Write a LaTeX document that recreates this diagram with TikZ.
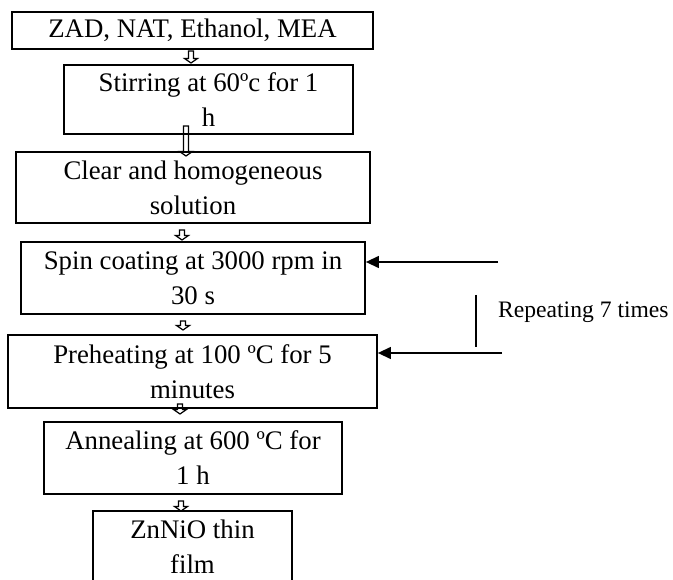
\documentclass[tikz,border=0pt]{standalone}
\usepackage{fontspec}
\setmainfont{Liberation Serif}
\usetikzlibrary{arrows.meta}
\tikzset{
  stepbox/.style={draw, line width=1.8pt, rectangle, inner sep=0pt, align=center,
    font=\fontsize{26.8pt}{35pt}\selectfont},
  flowarr/.style={draw, line width=1.2pt, fill=none, line join=miter},
  backarr/.style={line width=1.3pt, -{Triangle[length=13pt,width=12pt]}},
  plainline/.style={line width=1.3pt},
  note/.style={font=\fontsize{23.6pt}{27pt}\selectfont, anchor=west, inner sep=0pt}
}
\newcommand{\flowarrow}[3]{%
  \draw[flowarr] (#1-2.5,#2) -- (#1-2.5,#3-4.5) -- (#1-6.5,#3-4.5) -- (#1,#3) --
    (#1+6.5,#3-4.5) -- (#1+2.5,#3-4.5) -- (#1+2.5,#2) -- cycle;}
\begin{document}
\begin{tikzpicture}[x=1pt,y=-1pt]
\useasboundingbox (0,0) rectangle (673,580);
\clip (0,0) rectangle (673,580);
\node[stepbox, minimum width=361pt, minimum height=37pt] (b1) at (192.5,30.5) {ZAD, NAT, Ethanol, MEA};
\node[stepbox, minimum width=289pt, minimum height=69pt] (b2) at (208.5,99.5) {Stirring at 60ºc for 1\\h};
\node[stepbox, minimum width=354pt, minimum height=71pt] (b3) at (193,187.5) {Clear and homogeneous\\solution};
\node[stepbox, minimum width=344pt, minimum height=72pt] (b4) at (193,278) {Spin coating at 3000 rpm in\\30 s};
\node[stepbox, minimum width=369pt, minimum height=73pt] (b5) at (192.5,371.5) {Preheating at 100 ºC for 5\\minutes};
\node[stepbox, minimum width=298pt, minimum height=72pt] (b6) at (193,458) {Annealing at 600 ºC for\\1 h};
\node[stepbox, minimum width=199pt, minimum height=72pt] (b7) at (192.5,547) {ZnNiO thin\\film};
\flowarrow{191}{51}{63}
\flowarrow{186}{126}{156}
\flowarrow{182}{230}{240}
\flowarrow{183}{321}{330}
\flowarrow{180}{404}{414}
\flowarrow{181}{501}{511}
\coordinate (r1) at (498,262);
\coordinate (r2) at (502,353);
\draw[backarr] (r1) -- (r1 -| b4.east);
\draw[backarr] (r2) -- (r2 -| b5.east);
\coordinate (v1) at (476,295);
\coordinate (v2) at (476,347);
\draw[plainline] (v1) -- (v2);
\node[note] (rep) at (498,312) {Repeating 7 times};
\end{tikzpicture}
\end{document}
